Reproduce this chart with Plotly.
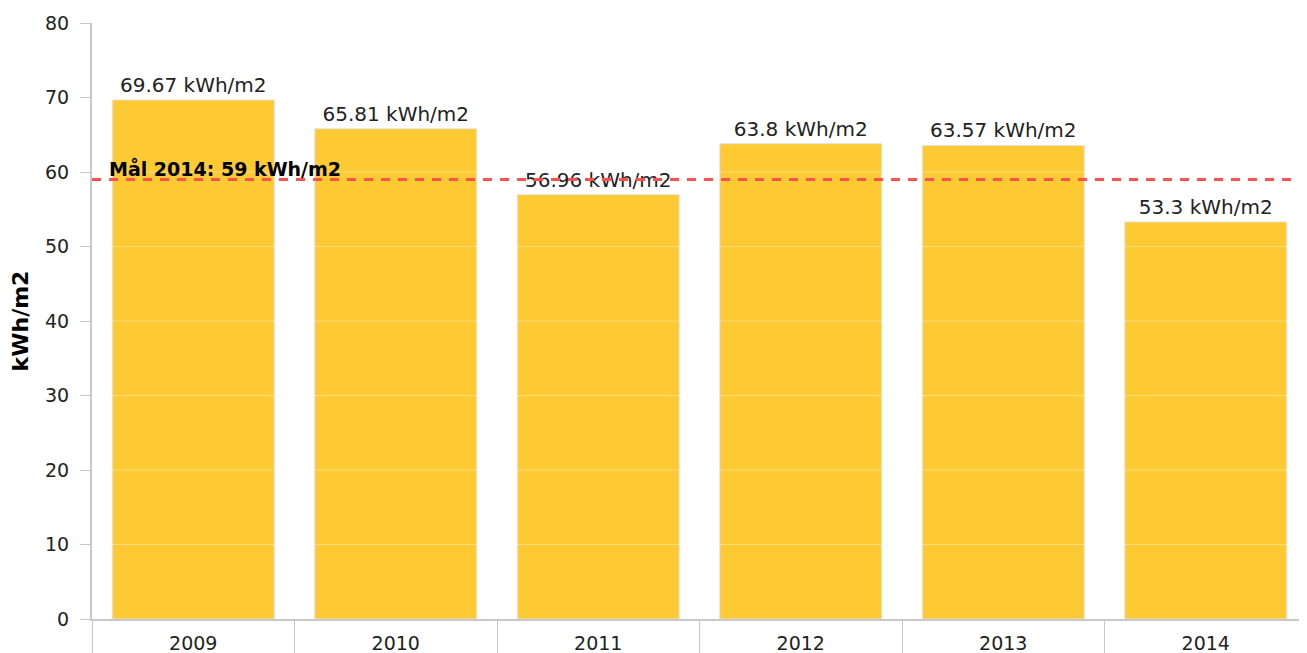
import plotly.graph_objects as go

years = ["2009", "2010", "2011", "2012", "2013", "2014"]
values = [69.67, 65.81, 56.96, 63.8, 63.57, 53.3]
labels = ["69.67 kWh/m2", "65.81 kWh/m2", "56.96 kWh/m2", "63.8 kWh/m2", "63.57 kWh/m2", "53.3 kWh/m2"]
target = 59
target_label = "Mål 2014: 59 kWh/m2"
grid_values = [10, 20, 30, 40, 50, 60, 70]

FONT = "Verdana, DejaVu Sans, sans-serif"

fig = go.Figure()
fig.add_trace(go.Bar(
    x=years, y=values, text=labels, textposition="outside",
    textfont=dict(family=FONT, size=20, color="#222"),
    marker=dict(color="#FDCA33", line=dict(color="#e3e3e3", width=1)),
    cliponaxis=False, hoverinfo="skip",
))

shapes = []
for g in grid_values:
    shapes.append(dict(type="line", xref="paper", x0=0, x1=1, yref="y", y0=g, y1=g,
                       line=dict(color="rgba(255,255,255,0.35)", width=1), layer="above"))
shapes.append(dict(type="line", xref="paper", x0=0, x1=1, yref="y", y0=target, y1=target,
                   line=dict(color="#FF5050", width=3, dash="9px,8px"), layer="above"))
fig.update_layout(shapes=shapes)

fig.add_annotation(text="<b>" + target_label + "</b>", xref="paper", x=15 / 1215, xanchor="left",
                   yref="y", y=target, yanchor="bottom", yshift=-3, showarrow=False,
                   font=dict(family=FONT, size=19, color="#000"))

fig.update_layout(
    width=1299, height=645,
    margin=dict(l=84, r=0, t=15, b=34),
    paper_bgcolor="white", plot_bgcolor="white",
    bargap=0.2, showlegend=False,
    font=dict(family=FONT, size=18, color="#222"),
    xaxis=dict(type="category", tickson="boundaries", ticks="outside", ticklen=34,
               tickcolor="#c8c8c8", tickwidth=1, showline=True, linecolor="#c8c8c8", linewidth=2,
               showgrid=False, ticklabelstandoff=6, automargin=False,
               tickfont=dict(family=FONT, size=19, color="#222")),
    yaxis=dict(range=[0, 80], dtick=10, ticks="outside", ticklen=10, tickcolor="#c8c8c8",
               showline=True, linecolor="#c8c8c8", linewidth=2, showgrid=False, zeroline=False,
               automargin=False, ticklabelstandoff=7,
               tickfont=dict(family=FONT, size=19, color="#222"),
               title=dict(text="<b>kWh/m2</b>", standoff=12, font=dict(family=FONT, size=22, color="#000"))),
)

fig.write_html("out.html")
